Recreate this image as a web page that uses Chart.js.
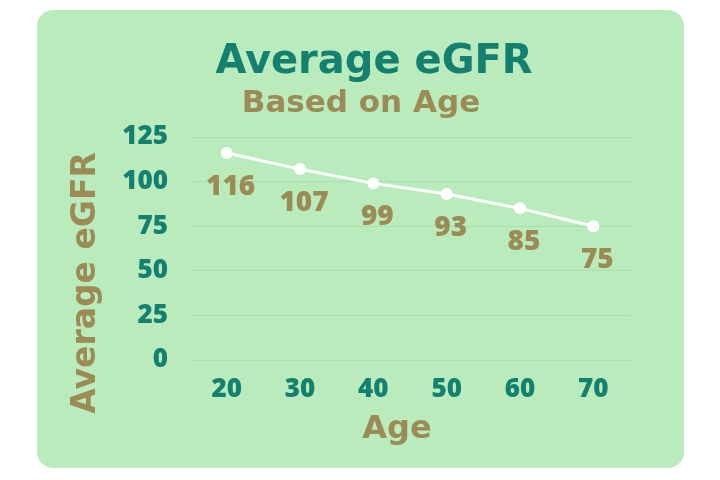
<!DOCTYPE html>
<html>
<head>
<meta charset="utf-8">
<script src="https://cdn.jsdelivr.net/npm/chart.js@4.4.1/dist/chart.umd.min.js"></script>
<style>
  html, body { margin: 0; padding: 0; background: #ffffff; width: 720px; height: 480px; overflow: hidden; }
  #card { position: absolute; left: 37px; top: 10px; width: 647px; height: 458px; border-radius: 16px; background: #b9ebbd; overflow: hidden; }
  canvas { display: block; }
</style>
</head>
<body>
<div id="card"><canvas id="c" width="647" height="458"></canvas></div>
<script>
const ages = ['20', '30', '40', '50', '60', '70'];
const egfr = [116, 107, 99, 93, 85, 75];
const yTicks = [0, 25, 50, 75, 100, 125];

const titleText = 'Average eGFR';
const subtitleText = 'Based on Age';
const xTitleText = 'Age';
const yTitleText = 'Average eGFR';

const TEAL = '#14806f';
const TAN = '#9c8b55';
const FONT = "'Open Sans', sans-serif";
const HEAD = "'DejaVu Sans', sans-serif";

const textPlugin = {
  id: 'textPlugin',
  afterDraw(chart) {
    const ctx = chart.ctx;
    const ca = chart.chartArea;
    ctx.save();
    ctx.textAlign = 'center';
    ctx.textBaseline = 'alphabetic';
    // title
    ctx.fillStyle = TEAL;
    ctx.font = "bold 40px " + HEAD;
    ctx.fillText(titleText, 337, 63);
    // subtitle
    ctx.fillStyle = TAN;
    ctx.font = "bold 31px " + HEAD;
    ctx.fillText(subtitleText, 324, 102);
    // x axis title
    ctx.font = "bold 32px " + HEAD;
    ctx.fillText(xTitleText, (ca.left + ca.right) / 2 - 13, 428);
    // y axis title
    ctx.save();
    ctx.translate(58, 273);
    ctx.rotate(-Math.PI / 2);
    ctx.font = "bold 33px " + HEAD;
    ctx.fillText(yTitleText, 0, 0);
    ctx.restore();
    ctx.restore();
  }
};

const valueLabels = {
  id: 'valueLabels',
  afterDatasetsDraw(chart) {
    const ctx = chart.ctx;
    const meta = chart.getDatasetMeta(0);
    ctx.save();
    ctx.fillStyle = TAN;
    ctx.font = "800 28px " + FONT;
    ctx.textAlign = 'center';
    ctx.textBaseline = 'middle';
    meta.data.forEach((pt, i) => {
      ctx.fillText(String(egfr[i]), pt.x + 4, pt.y + 34);
    });
    ctx.restore();
  }
};

new Chart(document.getElementById('c'), {
  type: 'line',
  data: {
    labels: ages,
    datasets: [{
      data: egfr,
      borderColor: '#ffffff',
      backgroundColor: '#ffffff',
      borderWidth: 3,
      pointRadius: 6,
      pointBackgroundColor: '#ffffff',
      pointBorderWidth: 0,
      tension: 0
    }]
  },
  options: {
    responsive: false,
    animation: false,
    layout: { padding: { left: 0, right: 54, top: 127, bottom: 0 } },
    plugins: {
      legend: { display: false },
      tooltip: { enabled: false },
      title: { display: false },
      subtitle: { display: false }
    },
    scales: {
      x: {
        offset: true,
        grid: { display: false, drawTicks: false },
        border: { display: false },
        ticks: { color: TEAL, font: { family: FONT, size: 26, weight: '800' }, padding: 14, maxRotation: 0 },
        afterFit(axis) { axis.height = 108; }
      },
      y: {
        min: 0,
        max: 125,
        afterBuildTicks(axis) { axis.ticks = yTicks.map(v => ({ value: v })); },
        grid: { color: 'rgba(60,140,70,0.12)', drawTicks: false },
        border: { display: false },
        ticks: { color: TEAL, font: { family: FONT, size: 26, weight: '800' }, padding: 22 },
        afterFit(axis) { axis.width = 153; }
      }
    }
  },
  plugins: [valueLabels, textPlugin]
});
</script>
</body>
</html>
